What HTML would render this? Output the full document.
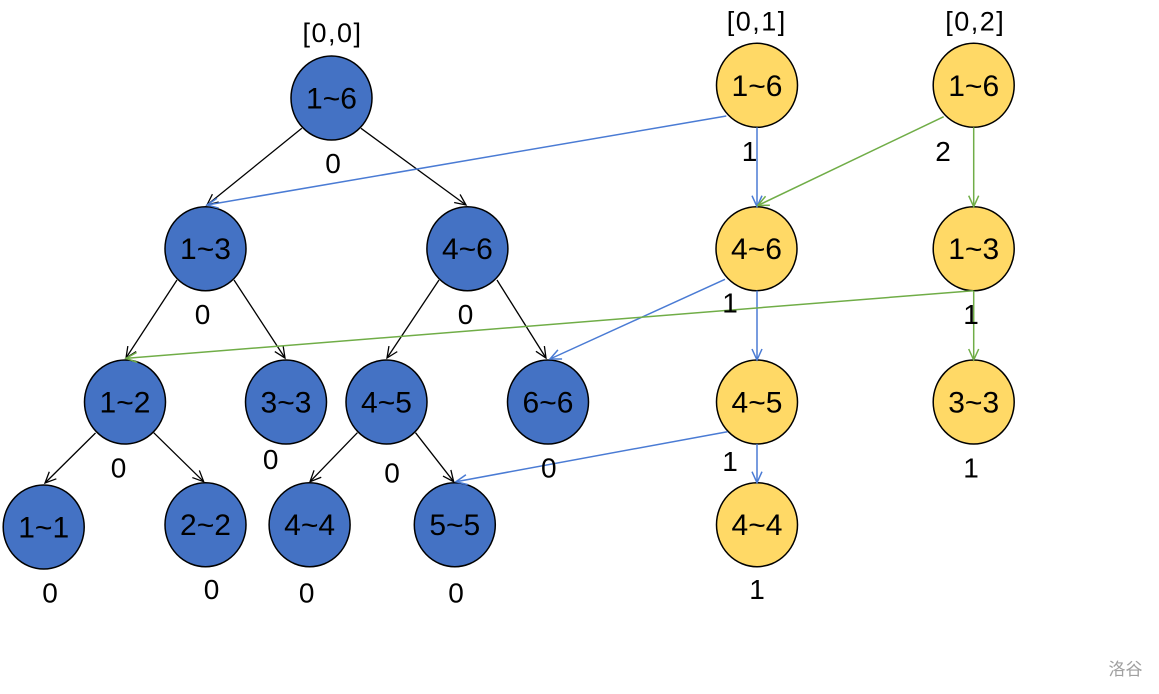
<!DOCTYPE html>
<html>
<head>
<meta charset="utf-8">
<style>
  html,body{margin:0;padding:0;background:#fff;}
  svg{display:block;}
  .t{font-family:"Liberation Sans",Arial,sans-serif;font-size:30px;fill:#000;text-anchor:middle;}
  .v{font-family:"Liberation Sans",Arial,sans-serif;font-size:28px;fill:#000;text-anchor:middle;}
  .h{font-family:"Liberation Sans",Arial,sans-serif;font-size:27px;fill:#000;text-anchor:middle;letter-spacing:1.5px;}
  .bn{fill:#4472C4;stroke:#000;stroke-width:1.5;}
  .yn{fill:#FFD966;stroke:#000;stroke-width:1.5;}
  .k{stroke:#000;stroke-width:1.3;fill:none;}
  .b{stroke:#4A7BD4;stroke-width:1.5;fill:none;}
  .g{stroke:#70AD47;stroke-width:1.5;fill:none;}
</style>
</head>
<body>
<svg width="1159" height="694" viewBox="0 0 1159 694" xmlns="http://www.w3.org/2000/svg">
  <defs>
    <marker id="mk" markerUnits="userSpaceOnUse" markerWidth="24" markerHeight="24" refX="12" refY="12" orient="auto" viewBox="0 0 24 24">
      <path d="M1,7 L12,12 L1,17" fill="none" stroke="#000" stroke-width="1.3"/>
    </marker>
    <marker id="mb" markerUnits="userSpaceOnUse" markerWidth="24" markerHeight="24" refX="12" refY="12" orient="auto" viewBox="0 0 24 24">
      <path d="M1,7 L12,12 L1,17" fill="none" stroke="#4A7BD4" stroke-width="1.5"/>
    </marker>
    <marker id="mg" markerUnits="userSpaceOnUse" markerWidth="24" markerHeight="24" refX="12" refY="12" orient="auto" viewBox="0 0 24 24">
      <path d="M1,7 L12,12 L1,17" fill="none" stroke="#70AD47" stroke-width="1.5"/>
    </marker>
  </defs>

  <!-- Blue nodes -->
  <ellipse class="bn" cx="331.5" cy="98" rx="40.5" ry="42"/>
  <ellipse class="bn" cx="205.5" cy="248.7" rx="40.5" ry="42"/>
  <ellipse class="bn" cx="467.4" cy="248.7" rx="40.5" ry="42"/>
  <ellipse class="bn" cx="125" cy="402" rx="40.5" ry="42"/>
  <ellipse class="bn" cx="286" cy="402" rx="40.5" ry="42"/>
  <ellipse class="bn" cx="386.5" cy="402" rx="40.5" ry="42"/>
  <ellipse class="bn" cx="548" cy="402" rx="40.5" ry="42"/>
  <ellipse class="bn" cx="43.7" cy="527" rx="40.5" ry="42"/>
  <ellipse class="bn" cx="205.5" cy="524.7" rx="40.5" ry="42"/>
  <ellipse class="bn" cx="309.6" cy="524.7" rx="40.5" ry="42"/>
  <ellipse class="bn" cx="454.8" cy="524.7" rx="40.5" ry="42"/>

  <!-- Yellow nodes -->
  <ellipse class="yn" cx="757" cy="85.3" rx="40.5" ry="42"/>
  <ellipse class="yn" cx="756.5" cy="248.7" rx="40.5" ry="42"/>
  <ellipse class="yn" cx="757" cy="402" rx="40.5" ry="42"/>
  <ellipse class="yn" cx="757" cy="524.7" rx="40.5" ry="42"/>
  <ellipse class="yn" cx="973.7" cy="85.3" rx="40.5" ry="42"/>
  <ellipse class="yn" cx="973.7" cy="248.7" rx="40.5" ry="42"/>
  <ellipse class="yn" cx="973.7" cy="402" rx="40.5" ry="42"/>

  <!-- Black tree edges -->
  <line class="k" x1="301.8" y1="128.3" x2="207" y2="205" marker-end="url(#mk)"/>
  <line class="k" x1="361" y1="128.3" x2="466" y2="205" marker-end="url(#mk)"/>
  <line class="k" x1="177" y1="280" x2="126" y2="358" marker-end="url(#mk)"/>
  <line class="k" x1="234" y1="280" x2="285" y2="358" marker-end="url(#mk)"/>
  <line class="k" x1="439" y1="280" x2="387" y2="358" marker-end="url(#mk)"/>
  <line class="k" x1="497" y1="280" x2="546" y2="358" marker-end="url(#mk)"/>
  <line class="k" x1="95.5" y1="433" x2="45" y2="483" marker-end="url(#mk)"/>
  <line class="k" x1="153.7" y1="432.7" x2="203.7" y2="481.7" marker-end="url(#mk)"/>
  <line class="k" x1="357.4" y1="432.7" x2="310" y2="481.7" marker-end="url(#mk)"/>
  <line class="k" x1="415.5" y1="432.7" x2="453.7" y2="481.7" marker-end="url(#mk)"/>

  <!-- Blue edges -->
  <line class="b" x1="726.3" y1="116" x2="207" y2="205" marker-end="url(#mb)"/>
  <line class="b" x1="757" y1="127.3" x2="757" y2="206.7" marker-end="url(#mb)"/>
  <line class="b" x1="725" y1="279.3" x2="550" y2="359" marker-end="url(#mb)"/>
  <line class="b" x1="757" y1="290.7" x2="757" y2="360" marker-end="url(#mb)"/>
  <line class="b" x1="727.4" y1="431.7" x2="456" y2="481.7" marker-end="url(#mb)"/>
  <line class="b" x1="757" y1="444" x2="757" y2="482.7" marker-end="url(#mb)"/>

  <!-- Green edges -->
  <line class="g" x1="943.7" y1="116.7" x2="757.8" y2="205.5" marker-end="url(#mg)"/>
  <line class="g" x1="973.7" y1="127.3" x2="973.7" y2="206.7" marker-end="url(#mg)"/>
  <line class="g" x1="973.3" y1="290.7" x2="126" y2="358.3" marker-end="url(#mg)"/>
  <line class="g" x1="973.7" y1="290.7" x2="973.7" y2="360" marker-end="url(#mg)"/>

  <!-- Header labels -->
  <text class="h" x="332.5" y="42">[0,0]</text>
  <text class="h" x="756.8" y="30.5">[0,1]</text>
  <text class="h" x="975.3" y="30.5">[0,2]</text>

  <!-- Node texts (blue) -->
  <text class="t" x="331.5" y="108.5">1~6</text>
  <text class="t" x="205.5" y="259.2">1~3</text>
  <text class="t" x="467.4" y="259.2">4~6</text>
  <text class="t" x="125" y="412.5">1~2</text>
  <text class="t" x="286" y="412.5">3~3</text>
  <text class="t" x="386.5" y="412.5">4~5</text>
  <text class="t" x="548" y="412.5">6~6</text>
  <text class="t" x="43.7" y="537.5">1~1</text>
  <text class="t" x="205.5" y="535.2">2~2</text>
  <text class="t" x="309.6" y="535.2">4~4</text>
  <text class="t" x="454.8" y="535.2">5~5</text>

  <!-- Node texts (yellow) -->
  <text class="t" x="757" y="95.8">1~6</text>
  <text class="t" x="756.5" y="259.2">4~6</text>
  <text class="t" x="757" y="412.5">4~5</text>
  <text class="t" x="757" y="535.2">4~4</text>
  <text class="t" x="973.7" y="95.8">1~6</text>
  <text class="t" x="973.7" y="259.2">1~3</text>
  <text class="t" x="973.7" y="412.5">3~3</text>

  <!-- Value labels -->
  <text class="v" x="333" y="173">0</text>
  <text class="v" x="202.5" y="324">0</text>
  <text class="v" x="465.5" y="324">0</text>
  <text class="v" x="118.5" y="477.5">0</text>
  <text class="v" x="270.7" y="469">0</text>
  <text class="v" x="392" y="482.5">0</text>
  <text class="v" x="548.8" y="477.5">0</text>
  <text class="v" x="50" y="602.5">0</text>
  <text class="v" x="211.5" y="599">0</text>
  <text class="v" x="306.7" y="602.5">0</text>
  <text class="v" x="456" y="602.5">0</text>

  <text class="v" x="749.5" y="161">1</text>
  <text class="v" x="943" y="161">2</text>
  <text class="v" x="730" y="312.5">1</text>
  <text class="v" x="971" y="324">1</text>
  <text class="v" x="730" y="471">1</text>
  <text class="v" x="971" y="477.5">1</text>
  <text class="v" x="757" y="599">1</text>

  <!-- Watermark -->
  <text x="1125.5" y="675" text-anchor="middle" style="font-family:'Liberation Sans','Noto Sans CJK SC',sans-serif;font-size:17px;fill:#a0a0a0;">洛谷</text>
</svg>
</body>
</html>
